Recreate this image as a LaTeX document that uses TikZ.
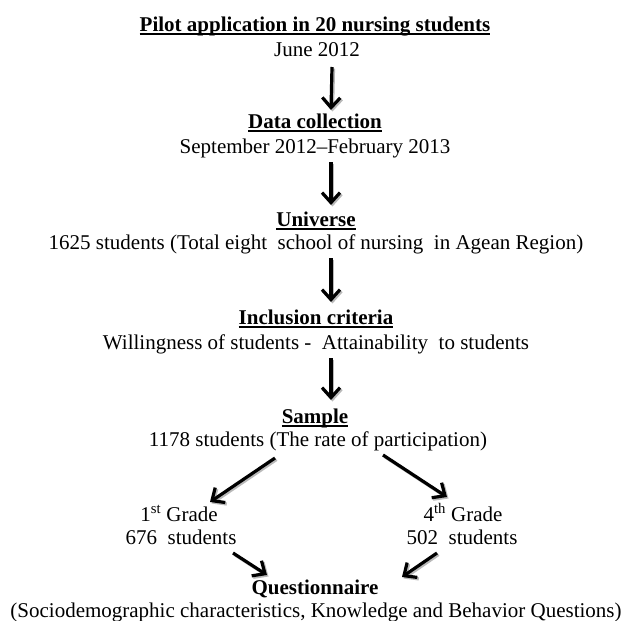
\documentclass[tikz,border=0pt]{standalone}
\usepackage{fontspec}
\setmainfont{Liberation Serif}
\usetikzlibrary{arrows.meta}
\newcommand\myul[1]{\setbox0\hbox{#1}\rlap{\rule[-3.5pt]{\wd0}{1.8pt}}\box0}
\newcommand\sarrow[2]{%
  \draw[arr,draw=gray!55,transform canvas={xshift=1.5pt,yshift=-1.5pt}] #1 -- #2;
  \draw[arr] #1 -- #2;}
\begin{document}
\begin{tikzpicture}[x=1pt,y=-1pt,
  txt/.style={inner sep=0pt, anchor=base, font=\fontsize{21}{24}\selectfont},
  hd/.style={txt, font=\fontsize{21}{24}\selectfont\bfseries},
  arr/.style={line width=3.2pt, -{Straight Barb[length=10pt,width=18pt]}}]
\useasboundingbox (0,0) rectangle (632,621);
% blocks
\node[hd]  (pilot) at (315,31) {\myul{Pilot application in 20 nursing students}};
\node[txt] (june)  at (317,56) {June 2012};
\node[hd]  (data)  at (315,128) {\myul{Data collection}};
\node[txt] (sept)  at (315,153) {September 2012--February 2013};
\node[hd]  (univ)  at (316,226) {\myul{Universe}};
\node[txt] (univb) at (316,249) {1625 students (Total eight\ \ school of nursing\ \ in Agean Region)};
\node[hd]  (incl)  at (316,324) {\myul{Inclusion criteria}};
\node[txt] (will)  at (316,349) {Willingness of students -\ \ Attainability\ \ to students};
\node[hd]  (samp)  at (315,423) {\myul{Sample}};
\node[txt] (sampb) at (318,446) {1178 students (The rate of participation)};
\node[txt] (ga)    at (179,521) {1\textsuperscript{st} Grade};
\node[txt] (gb)    at (181,544) {676\ \ students};
\node[txt] (ha)    at (463,521) {4\textsuperscript{th} Grade};
\node[txt] (hb)    at (462,544) {502\ \ students};
\node[hd]  (quest) at (315,594) {Questionnaire};
\node[txt] (questb) at (316,617) {(Sociodemographic characteristics, Knowledge and Behavior Questions)};
% vertical arrows
\sarrow{([xshift=15pt,yshift=-11pt]june.base)}{([xshift=16pt,yshift=18pt]data.base)}
\sarrow{([xshift=16pt,yshift=-9pt]sept.base)}{([xshift=15pt,yshift=21pt]univ.base)}
\sarrow{([xshift=15pt,yshift=-9pt]univb.base)}{([xshift=15pt,yshift=22pt]incl.base)}
\sarrow{([xshift=15pt,yshift=-9pt]will.base)}{([xshift=16pt,yshift=23pt]samp.base)}
% diagonal arrows
\sarrow{([xshift=-43pt,yshift=-12pt]sampb.base)}{([xshift=31pt,yshift=19pt]ga.base)}
\sarrow{([xshift=65pt,yshift=-9pt]sampb.base)}{([xshift=-16pt,yshift=24pt]ha.base)}
\sarrow{([xshift=52pt,yshift=-9pt]gb.base)}{([xshift=-48pt,yshift=19pt]quest.base)}
\sarrow{([xshift=-25pt,yshift=-9pt]hb.base)}{([xshift=87pt,yshift=17pt]quest.base)}
\end{tikzpicture}
\end{document}
